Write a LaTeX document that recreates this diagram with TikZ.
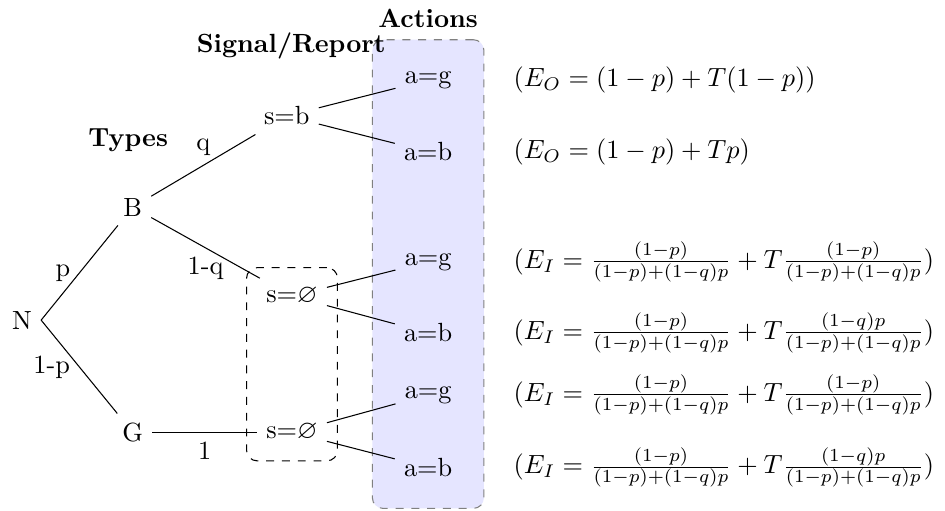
\documentclass[tikz,border=0pt]{standalone}
\usepackage{amssymb}
\usetikzlibrary{positioning,fit,backgrounds}

\begin{document}
\begin{tikzpicture}
    [head/.style={font=\bfseries},
    payoff/.style={anchor=west},
    infoset/.style={draw,dashed,rounded corners,inner sep=4pt},
    actbox/.style={draw=gray,dashed,fill=blue!10,rounded corners,inner sep=8.5pt}]
    \useasboundingbox (-0.294,-2.54) rectangle (12.34,4.28);
    % tree
    \node (N) at (0,0) {N};
    \node (B) at (1.48,1.51) {B};
    \node (G) at (1.48,-1.5) {G};
    \node (sb) at (3.54,2.73) {s=b};
    \node (sn1) at (3.61,0.32) {s=$\varnothing$};
    \node (sn2) at (3.61,-1.5) {s=$\varnothing$};
    \node (ag1) at (5.43,3.21) {a=g};
    \node (ab1) at (5.43,2.25) {a=b};
    \node (ag2) at (5.43,0.78) {a=g};
    \node (ab2) at (5.43,-0.17) {a=b};
    \node (ag3) at (5.43,-1.0) {a=g};
    \node (ab3) at (5.43,-1.97) {a=b};
    \draw (N.east) -- node[left] {p} (B);
    \draw (N.east) -- node[left] {1-p} (G);
    \draw (B) -- node[above] {q} (sb);
    \draw (B) -- node[below] {1-q} (sn1);
    \draw (G) -- node[below] {1} (sn2);
    \draw (sb) -- (ag1);
    \draw (sb) -- (ab1);
    \draw (sn1) -- (ag2);
    \draw (sn1) -- (ab2);
    \draw (sn2) -- (ag3);
    \draw (sn2) -- (ab3);
    \node[infoset,fit=(sn1)(sn2)] (info) {};
    \begin{scope}[on background layer]
    \node[actbox,fit=(ag1)(ab3)] (actions) {};
    \end{scope}
    % headings
    \node[head] (types) at (1.42,2.41) {Types};
    \node[head] (signal) at (3.6,3.67) {Signal/Report};
    \node[head] (acts) at (5.43,4.03) {Actions};
    % payoffs
    \node[payoff] (e1) at (6.45,3.21) {$(E_O = (1-p)+T(1-p))$};
    \node[payoff] (e2) at (6.45,2.25) {$(E_O = (1-p)+Tp)$};
    \node[payoff] (e3) at (6.45,0.78) {$(E_I = \frac{(1-p)}{(1-p)+(1-q)p} + T\frac{(1-p)}{(1-p)+(1-q)p})$};
    \node[payoff] (e4) at (6.45,-0.17) {$(E_I = \frac{(1-p)}{(1-p)+(1-q)p} + T\frac{(1-q)p}{(1-p)+(1-q)p})$};
    \node[payoff] (e5) at (6.45,-1.0) {$(E_I = \frac{(1-p)}{(1-p)+(1-q)p} + T\frac{(1-p)}{(1-p)+(1-q)p})$};
    \node[payoff] (e6) at (6.45,-1.97) {$(E_I = \frac{(1-p)}{(1-p)+(1-q)p} + T\frac{(1-q)p}{(1-p)+(1-q)p})$};
\end{tikzpicture}
\end{document}
